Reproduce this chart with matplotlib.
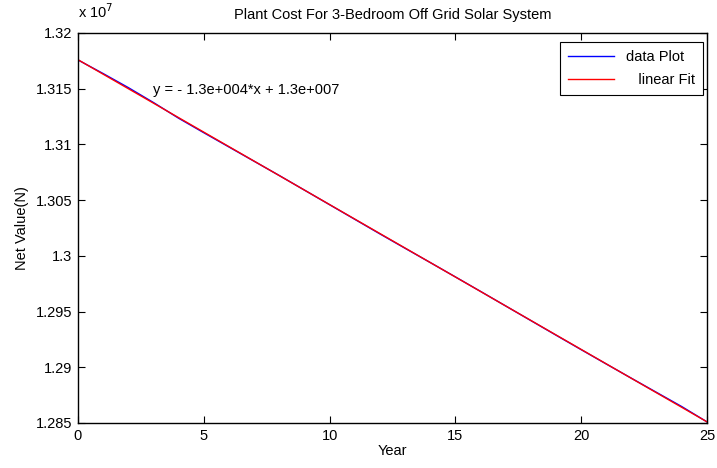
import matplotlib
matplotlib.use('Agg')

import numpy as np
from matplotlib import pyplot as plt
from matplotlib.ticker import FuncFormatter, MultipleLocator

plt.rcParams['font.family'] = ['Liberation Sans', 'DejaVu Sans']

# yearly net value of the plant (Naira)
years = list(range(0, 26))
net_value = [13175800, 13163600, 13151000, 13137600, 13123500, 13110500,
             13097700, 13084900, 13072100, 13059000, 13045900, 13032800,
             13019700, 13006800, 12994000, 12981100, 12968100, 12955000,
             12941900, 12928800, 12915800, 12902900, 12890100, 12877400,
             12864700, 12851000]

fit_label = "y = - 1.3e+004*x + 1.3e+007"
fs = 10.5


def plot():
    fig = plt.figure(figsize=(7.17, 4.68), dpi=100)
    ax = fig.add_axes([78 / 717, 45 / 468, 629 / 717, 390 / 468])

    coef = np.polyfit(years, net_value, 1)
    x_fit = np.array([years[0], years[-1]])
    y_fit = np.polyval(coef, x_fit)

    ax.plot(years, net_value, color='#0000ff', lw=1.0, label="data Plot")
    ax.plot(x_fit, y_fit, color='#ff0000', lw=1.0, label="   linear Fit")

    ax.set_xlim(0, 25)
    ax.set_ylim(1.285e7, 1.32e7)
    ax.xaxis.set_major_locator(MultipleLocator(5))
    ax.yaxis.set_major_locator(MultipleLocator(0.005e7))
    ax.yaxis.set_major_formatter(FuncFormatter(lambda v, p: "%g" % round(v / 1e7, 4)))
    ax.tick_params(direction='in', top=True, right=True, length=5, width=0.8,
                   labelsize=fs, pad=4)
    for s in ax.spines.values():
        s.set_linewidth(1.0)

    ax.text(3, 1.3149e7, fit_label, fontsize=fs, va='center', ha='left')
    ax.text(0, 1.3211e7, r"x 10$^{7}$", fontsize=fs, va='bottom', ha='left')

    ax.set_title("Plant Cost For 3-Bedroom Off Grid Solar System", fontsize=fs, pad=10)
    ax.set_xlabel("Year", fontsize=fs, labelpad=1)
    ax.set_ylabel("Net Value(N)", fontsize=fs, labelpad=5)

    leg = ax.legend(loc='upper right', fontsize=fs, fancybox=False, framealpha=1,
                    edgecolor='black', handlelength=3.2, borderaxespad=0,
                    bbox_to_anchor=(703 / 717, 1 - 42 / 468),
                    bbox_transform=fig.transFigure,
                    borderpad=0.55, labelspacing=0.6)
    leg.get_frame().set_linewidth(0.8)

    fig.savefig("out.png", dpi=100)


if __name__ == '__main__':
    plot()
